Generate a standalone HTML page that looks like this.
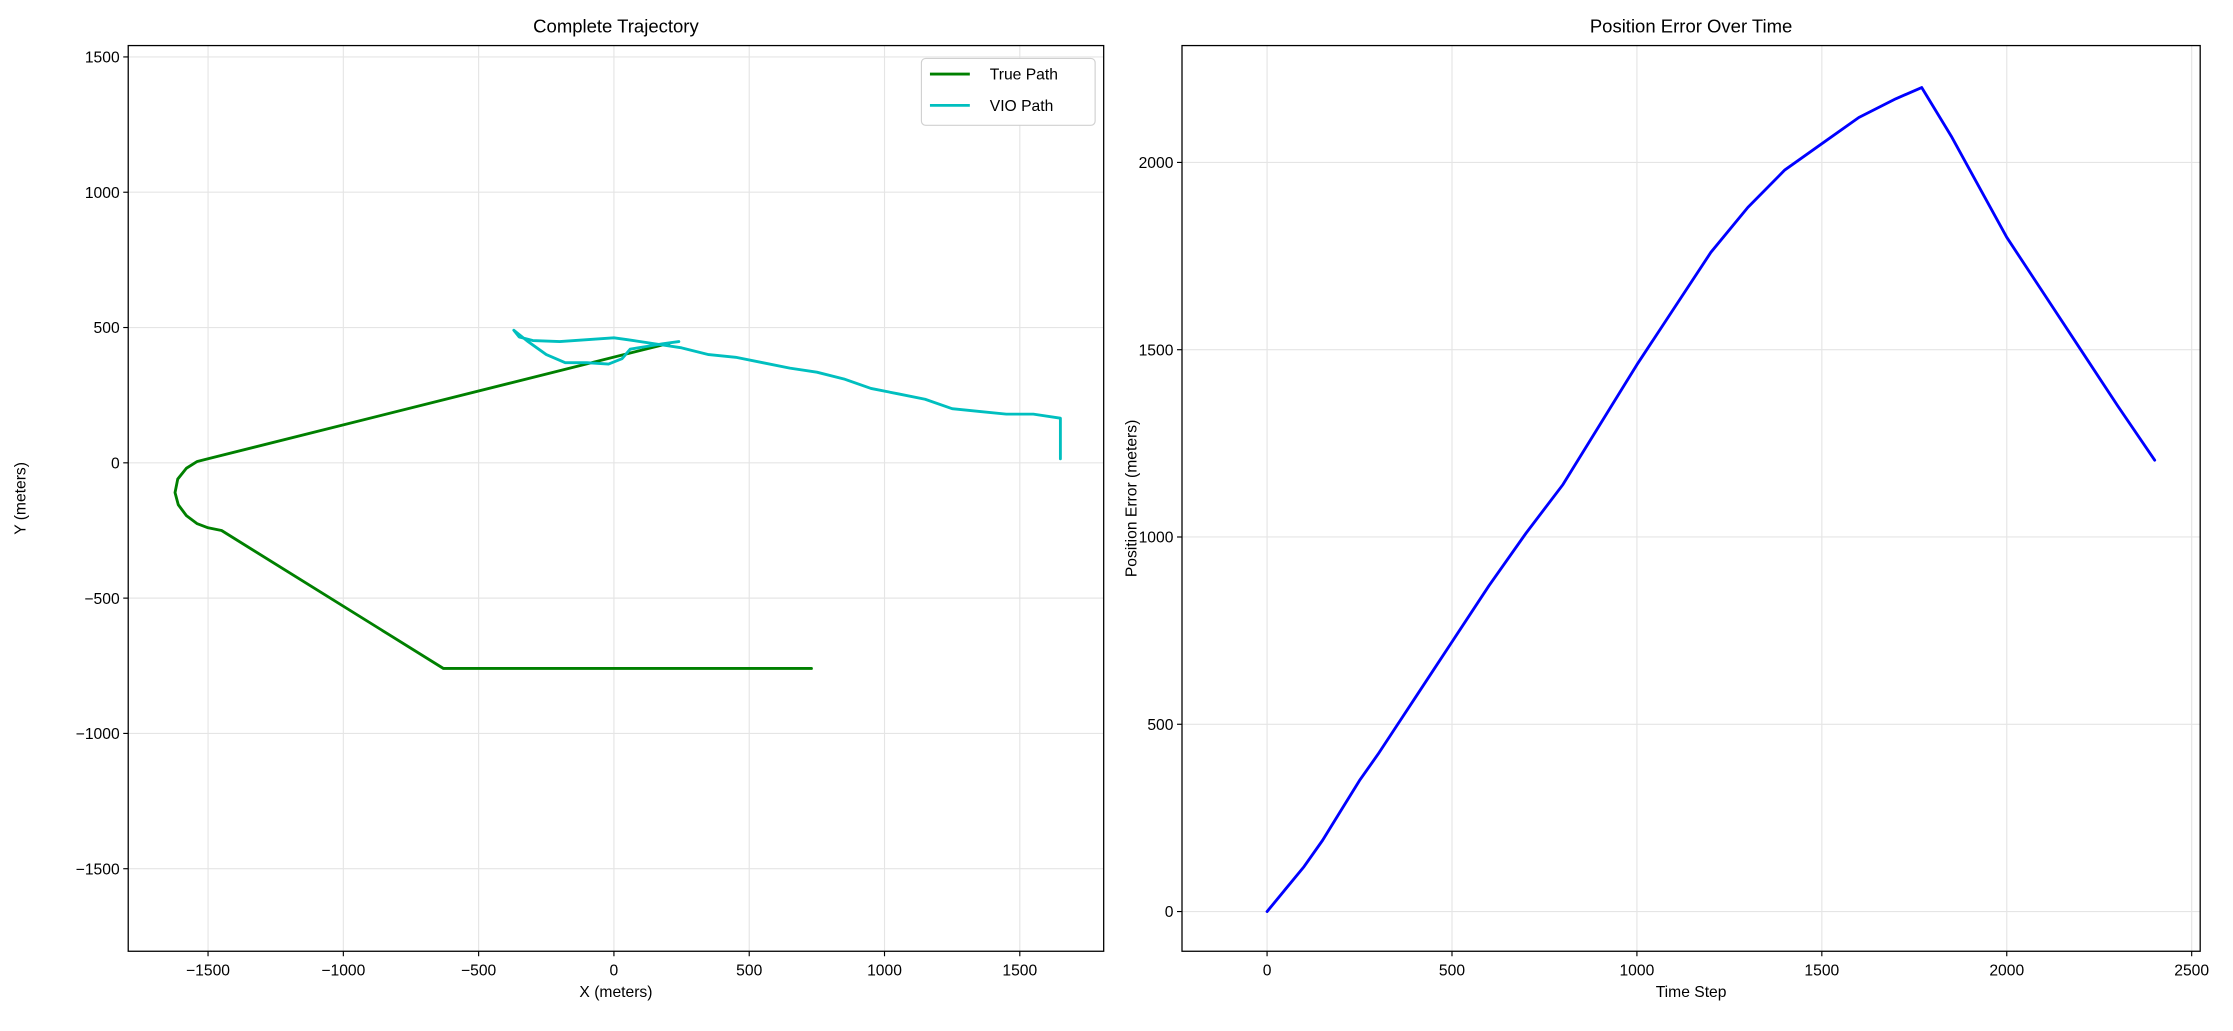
<!DOCTYPE html>
<html><head><meta charset="utf-8"><style>
html,body{margin:0;padding:0;background:#fff;}
svg{display:block;font-family:"Liberation Sans","DejaVu Sans",sans-serif;}
</style></head><body>
<svg id="fig" width="2233" height="1031" viewBox="0 0 1568 724" xmlns="http://www.w3.org/2000/svg">
<g id="left"></g>
<g id="right"></g>
</svg>
<script>
const truePathX=[730,-630,-1450,-1500,-1540,-1580,-1610,-1622,-1612,-1580,-1540,-1500,205];
const truePathY=[-760,-760,-250,-240,-225,-195,-155,-110,-60,-20,5,15,442];
const vioX=[1650,1650,1550,1450,1350,1250,1150,1050,950,850,750,650,550,450,350,250,150,50,0,-100,-200,-300,-350,-370,-320,-250,-180,-100,-20,30,60,120,180,240];
const vioY=[15,165,180,180,190,200,235,255,275,310,335,350,370,390,400,425,440,455,462,455,448,452,465,490,450,400,370,370,365,385,420,430,440,448];
const leftXTicks=[-1500,-1000,-500,0,500,1000,1500];
const leftYTicks=[-1500,-1000,-500,0,500,1000,1500];
const errT=[0,50,100,150,200,250,300,350,400,450,500,600,700,800,900,1000,1100,1200,1300,1400,1500,1600,1700,1770,1850,1900,2000,2100,2200,2300,2400];
const errV=[0,60,120,190,270,350,420,495,570,645,720,870,1010,1140,1300,1460,1610,1760,1880,1980,2050,2120,2170,2200,2070,1980,1800,1650,1500,1350,1205];
const rightXTicks=[0,500,1000,1500,2000,2500];
const rightYTicks=[0,500,1000,1500,2000];
const NS="http://www.w3.org/2000/svg";
function mk(parent,tag,attrs,text){const e=document.createElementNS(NS,tag);for(const k in attrs)e.setAttribute(k,attrs[k]);if(text!==undefined)e.textContent=text;parent.appendChild(e);return e;}
function fmt(v){return v<0?'\u2212'+Math.abs(v):String(v);}
function axes(g,box,xd,yd,xt,yt,title,xl,yl,name,yoff){
  const sx=v=>box.x0+(v-xd[0])/(xd[1]-xd[0])*(box.x1-box.x0);
  const sy=v=>box.y1-(v-yd[0])/(yd[1]-yd[0])*(box.y1-box.y0);
  xt.forEach(t=>{const X=sx(t);
    const gl=mk(g,'line',{x1:X,x2:X,y1:box.y0,y2:box.y1,stroke:'#e5e5e5','stroke-width':0.8});
    
    
    mk(g,'line',{x1:X,x2:X,y1:box.y1,y2:box.y1+3.5,stroke:'#000','stroke-width':0.8});
    const tl=mk(g,'text',{x:X,y:box.y1+17,'font-size':11,'text-anchor':'middle'},fmt(t));
    
    
  });
  yt.forEach(t=>{const Y=sy(t);
    const gl=mk(g,'line',{x1:box.x0,x2:box.x1,y1:Y,y2:Y,stroke:'#e5e5e5','stroke-width':0.8});
    
    
    mk(g,'line',{x1:box.x0-3.5,x2:box.x0,y1:Y,y2:Y,stroke:'#000','stroke-width':0.8});
    const tl=mk(g,'text',{x:box.x0-6,y:Y+4,'font-size':11,'text-anchor':'end'},fmt(t));
    
    
  });
  const tt=mk(g,'text',{x:(box.x0+box.x1)/2,y:box.y0-9,'font-size':13,'text-anchor':'middle'},title);
  
  
  const xa=mk(g,'text',{x:(box.x0+box.x1)/2,y:box.y1+32,'font-size':11,'text-anchor':'middle'},xl);
  
  
  const cy=(box.y0+box.y1)/2, cx=box.x0-yoff;
  const ya=mk(g,'text',{x:cx,y:cy,'font-size':11,'text-anchor':'middle',transform:`rotate(-90 ${cx} ${cy})`},yl);
  
  
  return {sx,sy};
}
function line(g,xs,ys,sx,sy,color,w,name){
  const d=xs.map((x,i)=>(i?'L':'M')+sx(x).toFixed(2)+','+sy(ys[i]).toFixed(2)).join('');
  const p=mk(g,'path',{d:d,fill:'none',stroke:color,'stroke-width':w,'stroke-linejoin':'round','stroke-linecap':'round'});
  
  
}
function frame(g,box){const r=mk(g,'rect',{x:box.x0,y:box.y0,width:box.x1-box.x0,height:box.y1-box.y0,fill:'none',stroke:'#000','stroke-width':0.9});
  
  }
// left
const L=document.getElementById('left');
const lb={x0:90,x1:775,y0:32,y1:668};
const la=axes(L,lb,[-1795,1810],[-1805,1542],leftXTicks,leftYTicks,'Complete Trajectory','X (meters)','Y (meters)','left',72);
line(L,truePathX,truePathY,la.sx,la.sy,'#008000',2,'true-path-line');
line(L,vioX,vioY,la.sx,la.sy,'#00bfbf',2,'vio-path-line');
frame(L,lb);
const lg=mk(L,'g',{});


mk(lg,'rect',{x:647,y:41,width:122,height:47,rx:3,fill:'#fff',stroke:'#d0d0d0','stroke-width':0.8});
mk(lg,'line',{x1:653,x2:681,y1:52,y2:52,stroke:'#008000','stroke-width':2});
const le1=mk(lg,'text',{x:695,y:56,'font-size':11},'True Path');


mk(lg,'line',{x1:653,x2:681,y1:74,y2:74,stroke:'#00bfbf','stroke-width':2});
const le2=mk(lg,'text',{x:695,y:78,'font-size':11},'VIO Path');


// right
const R=document.getElementById('right');
const rb={x0:830,x1:1545,y0:32,y1:668};
const ra=axes(R,rb,[-230,2523],[-106,2312],rightXTicks,rightYTicks,'Position Error Over Time','Time Step','Position Error (meters)','right',32);
line(R,errT,errV,ra.sx,ra.sy,'#0000ff',2,'error-line');
frame(R,rb);
</script>
</body></html>
